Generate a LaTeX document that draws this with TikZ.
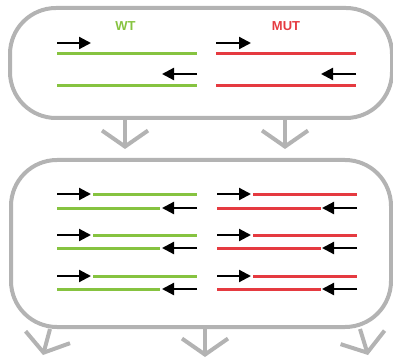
\documentclass[tikz,border=0pt]{standalone}
\usepackage{fontspec}
\setmainfont{Liberation Sans}
\usetikzlibrary{arrows.meta}
\definecolor{boxgrey}{HTML}{B3B3B3}
\definecolor{wtgreen}{HTML}{86C340}
\definecolor{mutred}{HTML}{E53A40}
\tikzset{
  panel/.style={draw=boxgrey, line width=4pt, rounded corners=46pt, inner sep=0pt},
  conn/.style={draw=boxgrey, line width=4pt, -{Straight Barb[length=16pt,width=46pt,line width=4pt]}},
  primer/.style={draw=black, line width=2.2pt, -{Triangle[length=12pt,width=12pt]}},
  wt/.style={draw=wtgreen, line width=3pt},
  mut/.style={draw=mutred, line width=3pt},
  lbl/.style={font=\fontsize{13}{15}\selectfont\bfseries}
}
\begin{document}
\begin{tikzpicture}[x=1pt,y=-1pt]
\useasboundingbox (0,0) rectangle (393,358);
% boxes
\node[panel, minimum width=382pt, minimum height=110pt] (top) at (201,63) {};
\node[panel, minimum width=380pt, minimum height=167pt] (bot) at (201,243.5) {};
% labels
\node[lbl, text=wtgreen] (wtl) at (125.5,26) {WT};
\node[lbl, text=mutred] (mutl) at (286,26) {MUT};
% top box strands
\draw[wt] (57,54) -- (197,54);
\draw[wt] (57,86) -- (197,86);
\draw[primer] (57,43) -- (91,43);
\draw[primer] (197,74) -- (162,74);
\draw[mut] (216,54) -- (356,54);
\draw[mut] (216,86) -- (356,86);
\draw[primer] (216,43) -- (251,43);
\draw[primer] (356,74) -- (321,74);
% bottom box strands
\foreach \ya/\yb in {194/208, 235/248, 276/289} {
  \draw[primer] (57,\ya) -- (91,\ya);
  \draw[wt] (93,\ya) -- (197,\ya);
  \draw[wt] (57,\yb) -- (160,\yb);
  \draw[primer] (197,\yb) -- (162,\yb);
  \draw[primer] (217,\ya) -- (251,\ya);
  \draw[mut] (253,\ya) -- (357,\ya);
  \draw[mut] (217,\yb) -- (321,\yb);
  \draw[primer] (357,\yb) -- (322,\yb);
}
% connectors
\coordinate (t1) at (125,149);
\coordinate (t2) at (285,149);
\draw[conn] (top.south -| t1) -- (t1);
\draw[conn] (top.south -| t2) -- (t2);
\coordinate (s1) at (50,0);
\coordinate (s3) at (360,0);
\coordinate (b1) at (43,355);
\coordinate (b2) at (205,357);
\coordinate (b3) at (368,355);
\draw[conn] (bot.south -| s1) -- (b1);
\draw[conn] (bot.south -| b2) -- (b2);
\draw[conn] (bot.south -| s3) -- (b3);
\end{tikzpicture}
\end{document}
